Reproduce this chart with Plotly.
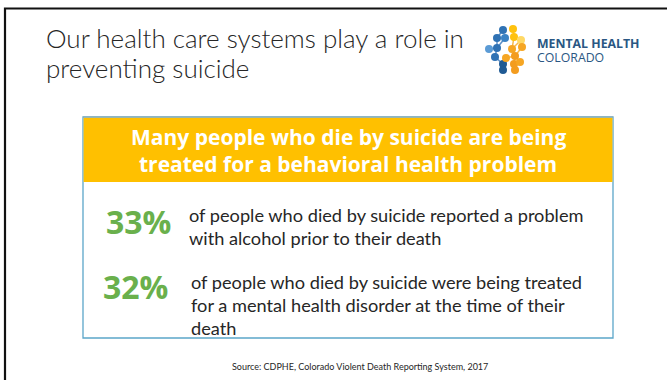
import plotly.graph_objects as go

# ---- content ----
title_lines = ["Our health care systems play a role in", "preventing suicide"]
banner_lines = ["Many people who die by suicide are being",
                "treated for a behavioral health problem"]
stat_values = [33, 32]
stat_text = [
    ["of people who died by suicide reported a problem",
     "with alcohol prior to their death"],
    ["of people who died by suicide were being treated",
     "for a mental health disorder at the time of their",
     "death"],
]
source_note = "Source: CDPHE, Colorado Violent Death Reporting System, 2017"
logo_name = ["MENTAL HEALTH", "COLORADO"]

# logo network nodes (x, y) and colours
logo_blue_x = [503, 497, 505, 489, 497, 495, 503, 503]
logo_blue_y = [30, 38, 38, 49, 48, 57, 64, 70]
logo_orange_x = [513, 514, 521, 512, 522, 515, 506, 514, 520, 515]
logo_orange_y = [29, 37, 40, 49, 47, 56, 58, 64, 62, 70]
logo_orange_col = ["#ffc20e", "#ffc20e", "#ffd966", "#f6a623", "#f6a623",
                   "#f39c1f", "#f6a623", "#f39c1f", "#f6a623", "#f39c1f"]
logo_blue_col = ["#2f72b4", "#2f72b4", "#3a82c4", "#5b9bd5", "#2f72b4",
                 "#2f72b4", "#1f5a94", "#1f5a94"]
logo_links = [(0, 1), (1, 4), (4, 5), (5, 6), (2, 4), (3, 4)]
logo_links_o = [(0, 1), (1, 3), (3, 5), (5, 7), (7, 9), (2, 3), (4, 5), (6, 5), (8, 7)]

GREEN = "#6ab04c"
TEXT = "#262626"
YELLOW = "#ffc000"
BOX_EDGE = "#5ba6c9"

fig = go.Figure()

# logo links
for a, b in logo_links:
    fig.add_trace(go.Scatter(x=[logo_blue_x[a], logo_blue_x[b]],
                             y=[logo_blue_y[a], logo_blue_y[b]], mode="lines",
                             line=dict(color="#5b8fc7", width=1.5),
                             hoverinfo="skip", showlegend=False))
for a, b in logo_links_o:
    fig.add_trace(go.Scatter(x=[logo_orange_x[a], logo_orange_x[b]],
                             y=[logo_orange_y[a], logo_orange_y[b]], mode="lines",
                             line=dict(color="#f7b84a", width=1.5),
                             hoverinfo="skip", showlegend=False))
fig.add_trace(go.Scatter(x=logo_blue_x, y=logo_blue_y, mode="markers",
                         marker=dict(size=8, color=logo_blue_col, line=dict(width=0)),
                         hoverinfo="skip", showlegend=False))
fig.add_trace(go.Scatter(x=logo_orange_x, y=logo_orange_y, mode="markers",
                         marker=dict(size=8, color=logo_orange_col, line=dict(width=0)),
                         hoverinfo="skip", showlegend=False))

shapes = [
    # slide frame
    dict(type="rect", x0=5, x1=720, y0=8.5, y1=420,
         line=dict(color="#111111", width=2.2), layer="below"),
    # content box
    dict(type="rect", x0=83, x1=613, y0=117, y1=338,
         line=dict(color=BOX_EDGE, width=1.3), fillcolor="white", layer="below"),
    # banner
    dict(type="rect", x0=83.6, x1=612.4, y0=117.6, y1=182,
         line=dict(width=0), fillcolor=YELLOW, layer="below"),
    dict(type="line", x0=83, x1=613, y0=117, y1=117,
         line=dict(color="#8fb3bf", width=1.3)),
]

ann = []
# title
for i, t in enumerate(title_lines):
    ann.append(dict(x=44, y=38 + 30 * i, text=t, xanchor="left", yanchor="middle",
                    font=dict(family="Lato", size=26, weight=300, color=TEXT),
                    showarrow=False))
# logo name
ann.append(dict(x=535, y=43, text="<b>" + logo_name[0] + "</b>", xanchor="left",
                yanchor="middle", font=dict(family="Open Sans", size=12.3, color="#2a5783"),
                showarrow=False))
ann.append(dict(x=535, y=57, text=logo_name[1], xanchor="left", yanchor="middle",
                font=dict(family="Open Sans", size=12.3, color="#2a5783"), showarrow=False))
# banner
for i, t in enumerate(banner_lines):
    ann.append(dict(x=348, y=137 + 27 * i, text="<b>" + t + "</b>", xanchor="center",
                    yanchor="middle", font=dict(family="Open Sans", size=21, color="white"),
                    showarrow=False))
# statistics
stat_y = [221, 286]
text_x = [187, 189]
text_y0 = [215, 282]
for k, v in enumerate(stat_values):
    ann.append(dict(x=173 if k == 0 else 170, y=stat_y[k], text="<b>%d%%</b>" % v,
                    xanchor="right", yanchor="middle",
                    font=dict(family="Open Sans", size=32, color=GREEN), showarrow=False))
    for j, line in enumerate(stat_text[k]):
        ann.append(dict(x=text_x[k], y=text_y0[k] + 23 * j, text=line, xanchor="left",
                        yanchor="middle", font=dict(family="Lato", size=18.2, color=TEXT),
                        showarrow=False))
# source
ann.append(dict(x=360, y=366, text=source_note, xanchor="center", yanchor="middle",
                font=dict(family="Lato", size=9, color=TEXT), showarrow=False))

fig.update_layout(
    width=667, height=380, margin=dict(l=0, r=0, t=0, b=0),
    paper_bgcolor="white", plot_bgcolor="white",
    xaxis=dict(range=[0, 667], visible=False, fixedrange=True),
    yaxis=dict(range=[380, 0], visible=False, fixedrange=True),
    shapes=shapes, annotations=ann, showlegend=False,
)
fig.write_html("out.html")
